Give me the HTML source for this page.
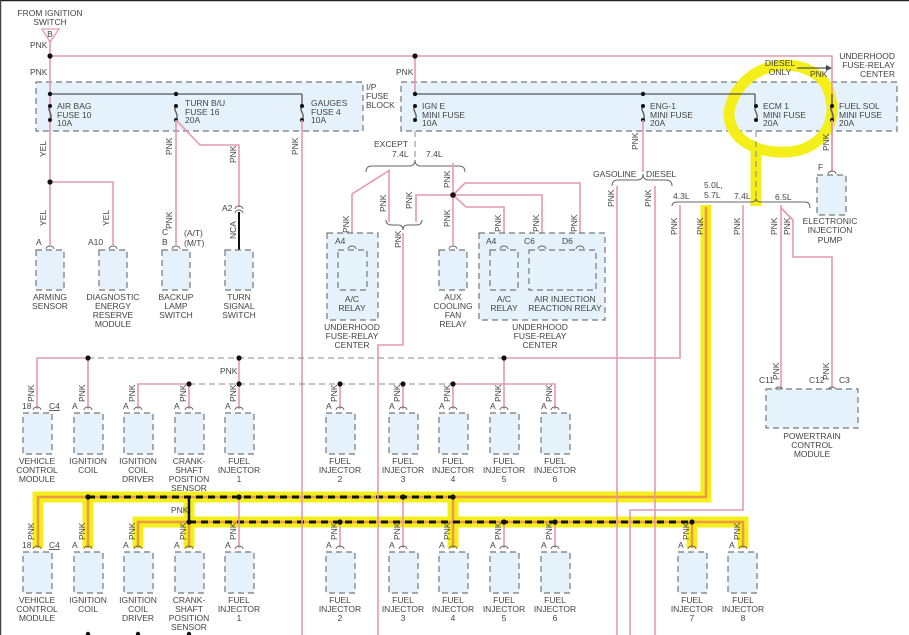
<!DOCTYPE html>
<html><head><meta charset="utf-8"><style>
html,body{margin:0;padding:0;background:#fff}
svg{display:block}
text{font-family:"Liberation Sans Narrow","Liberation Sans",sans-serif;font-size:8.5px;fill:#444}
.p{stroke:#e49aae;stroke-width:1.6;fill:none}
.g{stroke:#888;stroke-width:1;fill:none;stroke-dasharray:6,4}
.k{stroke:#555;stroke-width:1.3;fill:none}
.bx{fill:#e5f2fb;stroke:#777;stroke-width:1.2;stroke-dasharray:6,4}
.y{stroke:#f4ef1a;stroke-width:11;fill:none;stroke-linejoin:miter}
.o{stroke:#ee9a44;stroke-width:2.5;fill:none}
.bd{stroke:#111;stroke-width:3;fill:none;stroke-dasharray:7,5}
.c{stroke:#666;stroke-width:1;fill:none}
</style></head><body>
<svg width="909" height="635" viewBox="0 0 909 635" xmlns="http://www.w3.org/2000/svg">
<rect x="0" y="0" width="909" height="635" fill="#fff"/>
<line x1="0" y1="0.5" x2="909" y2="0.5" stroke="#222" stroke-width="1.5"/>
<line x1="0.5" y1="0" x2="0.5" y2="635" stroke="#444" stroke-width="1.5"/>

<!-- fuse blocks -->
<rect class="bx" x="36" y="82" width="327" height="49"/>
<rect class="bx" x="401" y="82" width="496" height="49"/>
<text x="366" y="90">I/P</text><text x="366" y="99">FUSE</text><text x="366" y="108">BLOCK</text>
<text x="895" y="59" text-anchor="end">UNDERHOOD</text><text x="895" y="68" text-anchor="end">FUSE-RELAY</text><text x="895" y="77" text-anchor="end">CENTER</text>

<!-- yellow highlights -->
<path class="y" d="M831,100 C828,74 802,62 776,66 C750,70 733,90 729,112 C728,138 755,154 788,152 C814,150 830,134 832,112 C832,106 832,103 831,100 Z" stroke-width="10"/>
<path class="y" d="M756,150 L756,206"/>
<path class="y" d="M706,205 L706,497 L38,497 L38,548"/>
<path class="y" d="M88,497 L88,548 M453,497 L453,548 M189,497 L189,548"/>
<path class="y" d="M138,548 L138,522 L743,522 L743,548 M692,522 L692,548"/>
<path class="o" d="M706,207 L706,497 L38,497 L38,548 M88,497 L88,548 M453,497 L453,548 M189,522 L189,548 M138,548 L138,522 L743,522 L743,548 M692,522 L692,548"/>
<path class="bd" d="M88,497 L453,497 M189,522 L692,522"/>
<path d="M189,497 L189,522" stroke="#111" stroke-width="2.5"/>

<!-- top feed -->
<text x="50" y="16" text-anchor="middle">FROM IGNITION</text><text x="50" y="25" text-anchor="middle">SWITCH</text>
<polygon points="42,29 59,29 50,42" fill="none" stroke="#e49aae" stroke-width="1.3"/>
<text x="50" y="37" text-anchor="middle" font-size="7">B</text>
<text x="30" y="48">PNK</text>
<path class="p" d="M50,42 L50,245 M50,56 L832,56 L832,172 M415,56 L415,94"/>
<text x="30" y="75">PNK</text><text x="396" y="75">PNK</text>
<circle cx="50" cy="56" r="2.6" fill="#111"/><circle cx="415" cy="56" r="2.6" fill="#111"/>
<path class="k" d="M50,94 L302,94 M415,94 L755,94"/>
<path class="k" d="M302,94 L302,106 M755,94 L755,106 M832,94 L832,106"/>
<text x="780" y="66" text-anchor="middle">DIESEL</text><text x="780" y="75" text-anchor="middle">ONLY</text>
<path class="k" d="M797,68 L828,68" stroke-width="1"/><polygon points="832,68 826,65 826,71" fill="#444"/>
<text x="810" y="77">PNK</text>

<!-- fuses -->
<g fill="#111">
<circle cx="50" cy="94" r="2.2"/><circle cx="176" cy="94" r="2.2"/><circle cx="415" cy="94" r="2.2"/><circle cx="643" cy="94" r="2.2"/>
</g>
<g>
<path class="k" d="M50,106 C46,110 54,114 50,120 M176,106 C172,110 180,114 176,120 M302,106 C298,110 306,114 302,120 M415,106 C411,110 419,114 415,120 M643,106 C639,110 647,114 643,120 M756,106 C752,110 760,114 756,120 M832,106 C828,110 836,114 832,120"/>
<g fill="#111">
<circle cx="50" cy="106" r="2"/><circle cx="50" cy="120" r="2"/><circle cx="176" cy="106" r="2"/><circle cx="176" cy="120" r="2"/>
<circle cx="302" cy="106" r="2"/><circle cx="302" cy="120" r="2"/><circle cx="415" cy="106" r="2"/><circle cx="415" cy="120" r="2"/>
<circle cx="643" cy="106" r="2"/><circle cx="643" cy="120" r="2"/><circle cx="756" cy="106" r="2"/><circle cx="756" cy="120" r="2"/>
<circle cx="832" cy="106" r="2"/><circle cx="832" cy="120" r="2"/>
</g>
</g>
<text x="57" y="109">AIR BAG</text><text x="57" y="118">FUSE 10</text><text x="57" y="126">10A</text>
<text x="185" y="106">TURN B/U</text><text x="185" y="115">FUSE 16</text><text x="185" y="123">20A</text>
<text x="311" y="106">GAUGES</text><text x="311" y="115">FUSE 4</text><text x="311" y="123">10A</text>
<text x="422" y="109">IGN E</text><text x="422" y="118">MINI FUSE</text><text x="422" y="126">10A</text>
<text x="650" y="109">ENG-1</text><text x="650" y="118">MINI FUSE</text><text x="650" y="126">20A</text>
<text x="763" y="109">ECM 1</text><text x="763" y="118">MINI FUSE</text><text x="763" y="126">20A</text>
<text x="839" y="109">FUEL SOL</text><text x="839" y="118">MINI FUSE</text><text x="839" y="126">20A</text>

<!-- left wiring -->
<path class="p" d="M50,182 L113,182 L113,245 M176,120 L176,245 M176,120 L200,145 L239,145 L239,207 M302,120 L302,635"/>
<path d="M239,212 L239,250" stroke="#111" stroke-width="2"/>
<circle cx="50" cy="182" r="2.6" fill="#111"/>
<g transform="rotate(-90)">
<text x="-157" y="46">YEL</text><text x="-226" y="46">YEL</text><text x="-226" y="109">YEL</text>
<text x="-155" y="172">PNK</text><text x="-163" y="236">PNK</text><text x="-155" y="298">PNK</text>
<text x="-229" y="172">PNK</text><text x="-239" y="236">NCA</text>
</g>
<text x="222" y="211">A2</text>
<path class="c" d="M235,209 A4,3 0 0 1 243,209 M235,213 A4,3 0 0 1 243,213"/>
<text x="36" y="245">A</text><text x="88" y="245">A10</text>
<text x="162" y="235">C</text><text x="162" y="245">B</text>
<text x="184" y="236">(A/T)</text><text x="184" y="246">(M/T)</text>
<path class="c" d="M46,249 A4,3 0 0 1 54,249 M109,249 A4,3 0 0 1 117,249 M172,249 A4,3 0 0 1 180,249"/>
<rect class="bx" x="36" y="250" width="28" height="40"/>
<rect class="bx" x="99" y="250" width="28" height="40"/>
<rect class="bx" x="162" y="250" width="28" height="40"/>
<rect class="bx" x="225" y="250" width="28" height="40"/>
<g text-anchor="middle">
<text x="50" y="300">ARMING</text><text x="50" y="309">SENSOR</text>
<text x="113" y="300">DIAGNOSTIC</text><text x="113" y="309">ENERGY</text><text x="113" y="318">RESERVE</text><text x="113" y="327">MODULE</text>
<text x="176" y="300">BACKUP</text><text x="176" y="309">LAMP</text><text x="176" y="318">SWITCH</text>
<text x="239" y="300">TURN</text><text x="239" y="309">SIGNAL</text><text x="239" y="318">SWITCH</text>
</g>

<!-- middle relays -->
<path class="g" d="M415,131 L415,160 M756,131 L756,200"/>
<path class="c" d="M366,172 Q366,166 372,166 L409,166 Q415,166 415,160 Q415,166 421,166 L459,166 Q465,166 465,172"/>
<text x="374" y="147">EXCEPT</text><text x="392" y="157">7.4L</text><text x="426" y="157">7.4L</text>
<path class="p" d="M390,170 L352,194 L352,245 M389,170 L389,222 M416,222 L416,195 L453,195 L453,245 M453,195 L453,163 M453,195 L465,183 L580,183 L580,245 M453,195 L542,195 L542,245 M453,195 L466,207 L504,207 L504,245 M403,233 L403,345 L378,345 L378,635"/>
<path class="c" d="M386,220 Q386,225 392,225 L398,225 Q403,225 403,230 Q403,225 408,225 L416,225 Q422,225 422,220"/>
<circle cx="453" cy="195" r="2.8" fill="#111"/>
<rect class="bx" x="327" y="233" width="51" height="87"/>
<rect class="bx" x="338" y="250" width="29" height="40"/>
<rect class="bx" x="439" y="250" width="28" height="40"/>
<rect class="bx" x="479" y="233" width="126" height="87"/>
<rect class="bx" x="490" y="250" width="28" height="40"/>
<rect class="bx" x="529" y="250" width="67" height="40"/>
<path class="c" d="M348,249 A4,3 0 0 1 356,249 M449,249 A4,3 0 0 1 457,249 M500,249 A4,3 0 0 1 508,249 M538,249 A4,3 0 0 1 546,249 M576,249 A4,3 0 0 1 584,249"/>
<text x="335" y="244">A4</text><text x="486" y="244">A4</text><text x="524" y="244">C6</text><text x="562" y="244">D6</text>
<g text-anchor="middle">
<text x="352" y="302">A/C</text><text x="352" y="311">RELAY</text>
<text x="352" y="330">UNDERHOOD</text><text x="352" y="339">FUSE-RELAY</text><text x="352" y="348">CENTER</text>
<text x="453" y="300">AUX</text><text x="453" y="309">COOLING</text><text x="453" y="318">FAN</text><text x="453" y="327">RELAY</text>
<text x="504" y="302">A/C</text><text x="504" y="311">RELAY</text>
<text x="565" y="302">AIR INJECTION</text><text x="565" y="311">REACTION RELAY</text>
<text x="540" y="330">UNDERHOOD</text><text x="540" y="339">FUSE-RELAY</text><text x="540" y="348">CENTER</text>
</g>
<g transform="rotate(-90)">
<text x="-233" y="349">PNK</text><text x="-212" y="386">PNK</text><text x="-209" y="412">PNK</text><text x="-248" y="401">PNK</text>
<text x="-188" y="450">PNK</text><text x="-227" y="450">PNK</text><text x="-232" y="501">PNK</text><text x="-232" y="539">PNK</text><text x="-232" y="577">PNK</text>
</g>

<!-- right side -->
<path class="p" d="M643,120 L643,172 M617,186 L617,635 M655,186 L655,635 M680,205 L680,358 L504,358 M743,205 L743,510 L630,510 L630,635 M781,205 L781,388 M781,208 L793,220 L793,257 L832,257 L832,388 M832,120 L832,172"/>
<path class="c" d="M612,186 Q612,180 618,180 L637,180 Q643,180 643,174 Q643,180 649,180 L666,180 Q672,180 672,186"/>
<text x="593" y="177">GASOLINE</text><text x="646" y="177">DIESEL</text>
<path class="c" d="M672,206 Q672,202 678,202 L752,202 Q756,202 756,198 Q756,202 760,202 L805,202 Q810,202 810,208"/>
<text x="673" y="199">4.3L</text><text x="704" y="188">5.0L,</text><text x="704" y="198">5.7L</text><text x="734" y="199">7.4L</text><text x="775" y="200">6.5L</text>
<g transform="rotate(-90)">
<text x="-150" y="638">PNK</text><text x="-207" y="614">PNK</text><text x="-207" y="651">PNK</text>
<text x="-235" y="677">PNK</text><text x="-235" y="703">PNK</text><text x="-235" y="740">PNK</text><text x="-235" y="777">PNK</text><text x="-235" y="790">PNK</text>
<text x="-151" y="829">PNK</text>
<text x="-380" y="779">PNK</text><text x="-380" y="829">PNK</text>
</g>
<text x="818" y="170">F</text>
<path class="c" d="M828,174 A4,3 0 0 1 836,174 M775,390 A4,3 0 0 1 783,390 M828,390 A4,3 0 0 1 836,390"/>
<rect class="bx" x="817" y="175" width="29" height="40"/>
<g text-anchor="middle">
<text x="830" y="224">ELECTRONIC</text><text x="830" y="233">INJECTION</text><text x="830" y="243">PUMP</text>
</g>
<text x="759" y="383">C11</text><text x="809" y="383">C12</text><text x="839" y="383">C3</text>
<rect class="bx" x="766" y="389" width="92" height="39"/>
<g text-anchor="middle">
<text x="812" y="439">POWERTRAIN</text><text x="812" y="448">CONTROL</text><text x="812" y="457">MODULE</text>
</g>

<!-- row 1 buses -->
<path class="g" d="M88,358 L504,358 M189,384 L453,384"/>
<path class="p" d="M37,409 L37,358 L88,358 L88,409 M138,409 L138,384 L189,384 L189,409 M239,358 L239,409 M340,384 L340,409 M403,384 L403,409 M453,384 L453,409 M453,384 L555,384 L555,409 M504,358 L504,409"/>
<text x="220" y="374">PNK</text>
<g fill="#111">
<circle cx="88" cy="358" r="2.6"/><circle cx="239" cy="358" r="2.6"/><circle cx="504" cy="358" r="2.6"/>
<circle cx="189" cy="384" r="2.6"/><circle cx="239" cy="384" r="2.6"/><circle cx="340" cy="384" r="2.6"/><circle cx="403" cy="384" r="2.6"/><circle cx="453" cy="384" r="2.6"/>
</g>
<path class="c" d="M33,410 A4,3 0 0 1 41,410 M84,410 A4,3 0 0 1 92,410 M134,410 A4,3 0 0 1 142,410 M185,410 A4,3 0 0 1 193,410 M235,410 A4,3 0 0 1 243,410 M336,410 A4,3 0 0 1 344,410 M399,410 A4,3 0 0 1 407,410 M449,410 A4,3 0 0 1 457,410 M500,410 A4,3 0 0 1 508,410 M551,410 A4,3 0 0 1 559,410"/>
<text x="22" y="409">18</text><text x="49" y="409" text-decoration="underline">C4</text>
<text x="72" y="409">A</text><text x="123" y="409">A</text><text x="174" y="409">A</text><text x="225" y="409">A</text><text x="326" y="409">A</text><text x="389" y="409">A</text><text x="439" y="409">A</text><text x="490" y="409">A</text><text x="541" y="409">A</text>
<g transform="rotate(-90)">
<text x="-402" y="34">PNK</text><text x="-402" y="85">PNK</text><text x="-402" y="135">PNK</text><text x="-402" y="186">PNK</text><text x="-402" y="236">PNK</text>
<text x="-402" y="337">PNK</text><text x="-402" y="400">PNK</text><text x="-402" y="450">PNK</text><text x="-402" y="501">PNK</text><text x="-402" y="552">PNK</text>
</g>
<g>
<rect class="bx" x="23" y="413" width="29" height="41"/><rect class="bx" x="74" y="413" width="29" height="41"/><rect class="bx" x="124" y="413" width="29" height="41"/><rect class="bx" x="175" y="413" width="29" height="41"/><rect class="bx" x="225" y="413" width="29" height="41"/>
<rect class="bx" x="326" y="413" width="29" height="41"/><rect class="bx" x="389" y="413" width="29" height="41"/><rect class="bx" x="439" y="413" width="29" height="41"/><rect class="bx" x="490" y="413" width="29" height="41"/><rect class="bx" x="541" y="413" width="29" height="41"/>
</g>
<g text-anchor="middle">
<text x="37" y="464">VEHICLE</text><text x="37" y="473">CONTROL</text><text x="37" y="482">MODULE</text>
<text x="88" y="464">IGNITION</text><text x="88" y="473">COIL</text>
<text x="138" y="464">IGNITION</text><text x="138" y="473">COIL</text><text x="138" y="482">DRIVER</text>
<text x="189" y="464">CRANK-</text><text x="189" y="473">SHAFT</text><text x="189" y="482">POSITION</text><text x="189" y="491">SENSOR</text>
<text x="239" y="464">FUEL</text><text x="239" y="473">INJECTOR</text><text x="239" y="482">1</text>
<text x="340" y="464">FUEL</text><text x="340" y="473">INJECTOR</text><text x="340" y="482">2</text>
<text x="403" y="464">FUEL</text><text x="403" y="473">INJECTOR</text><text x="403" y="482">3</text>
<text x="453" y="464">FUEL</text><text x="453" y="473">INJECTOR</text><text x="453" y="482">4</text>
<text x="504" y="464">FUEL</text><text x="504" y="473">INJECTOR</text><text x="504" y="482">5</text>
<text x="555" y="464">FUEL</text><text x="555" y="473">INJECTOR</text><text x="555" y="482">6</text>
</g>

<!-- row 2 -->
<path class="p" d="M239,497 L239,548 M340,522 L340,548 M403,497 L403,548 M504,522 L504,548 M555,522 L555,548"/>
<text x="171" y="513">PNK</text>
<g fill="#111">
<circle cx="88" cy="497" r="2.6"/><circle cx="239" cy="497" r="2.6"/><circle cx="403" cy="497" r="2.6"/><circle cx="453" cy="497" r="2.6"/>
<circle cx="189" cy="522" r="2.6"/><circle cx="340" cy="522" r="2.6"/><circle cx="504" cy="522" r="2.6"/><circle cx="555" cy="522" r="2.6"/><circle cx="692" cy="522" r="2.6"/>
</g>
<path class="c" d="M33,549 A4,3 0 0 1 41,549 M84,549 A4,3 0 0 1 92,549 M134,549 A4,3 0 0 1 142,549 M185,549 A4,3 0 0 1 193,549 M235,549 A4,3 0 0 1 243,549 M336,549 A4,3 0 0 1 344,549 M399,549 A4,3 0 0 1 407,549 M449,549 A4,3 0 0 1 457,549 M500,549 A4,3 0 0 1 508,549 M551,549 A4,3 0 0 1 559,549 M688,549 A4,3 0 0 1 696,549 M739,549 A4,3 0 0 1 747,549"/>
<text x="22" y="548">18</text><text x="49" y="548" text-decoration="underline">C4</text>
<text x="72" y="548">A</text><text x="123" y="548">A</text><text x="174" y="548">A</text><text x="225" y="548">A</text><text x="326" y="548">A</text><text x="389" y="548">A</text><text x="439" y="548">A</text><text x="490" y="548">A</text><text x="541" y="548">A</text><text x="678" y="548">A</text><text x="729" y="548">A</text>
<g transform="rotate(-90)">
<text x="-540" y="34">PNK</text><text x="-540" y="85">PNK</text><text x="-540" y="135">PNK</text><text x="-540" y="186">PNK</text><text x="-540" y="236">PNK</text>
<text x="-540" y="337">PNK</text><text x="-540" y="400">PNK</text><text x="-540" y="450">PNK</text><text x="-540" y="501">PNK</text><text x="-540" y="552">PNK</text><text x="-540" y="689">PNK</text><text x="-540" y="740">PNK</text>
</g>
<g>
<rect class="bx" x="23" y="552" width="29" height="41"/><rect class="bx" x="74" y="552" width="29" height="41"/><rect class="bx" x="124" y="552" width="29" height="41"/><rect class="bx" x="175" y="552" width="29" height="41"/><rect class="bx" x="225" y="552" width="29" height="41"/>
<rect class="bx" x="326" y="552" width="29" height="41"/><rect class="bx" x="389" y="552" width="29" height="41"/><rect class="bx" x="439" y="552" width="29" height="41"/><rect class="bx" x="490" y="552" width="29" height="41"/><rect class="bx" x="541" y="552" width="29" height="41"/>
<rect class="bx" x="678" y="552" width="29" height="41"/><rect class="bx" x="728" y="552" width="29" height="41"/>
</g>
<g text-anchor="middle">
<text x="37" y="603">VEHICLE</text><text x="37" y="612">CONTROL</text><text x="37" y="621">MODULE</text>
<text x="88" y="603">IGNITION</text><text x="88" y="612">COIL</text>
<text x="138" y="603">IGNITION</text><text x="138" y="612">COIL</text><text x="138" y="621">DRIVER</text>
<text x="189" y="603">CRANK-</text><text x="189" y="612">SHAFT</text><text x="189" y="621">POSITION</text><text x="189" y="630">SENSOR</text>
<text x="239" y="603">FUEL</text><text x="239" y="612">INJECTOR</text><text x="239" y="621">1</text>
<text x="340" y="603">FUEL</text><text x="340" y="612">INJECTOR</text><text x="340" y="621">2</text>
<text x="403" y="603">FUEL</text><text x="403" y="612">INJECTOR</text><text x="403" y="621">3</text>
<text x="453" y="603">FUEL</text><text x="453" y="612">INJECTOR</text><text x="453" y="621">4</text>
<text x="504" y="603">FUEL</text><text x="504" y="612">INJECTOR</text><text x="504" y="621">5</text>
<text x="555" y="603">FUEL</text><text x="555" y="612">INJECTOR</text><text x="555" y="621">6</text>
<text x="692" y="603">FUEL</text><text x="692" y="612">INJECTOR</text><text x="692" y="621">7</text>
<text x="743" y="603">FUEL</text><text x="743" y="612">INJECTOR</text><text x="743" y="621">8</text>
</g>
<g fill="#111"><circle cx="88" cy="634" r="2.2"/><circle cx="138" cy="634" r="2.2"/><circle cx="189" cy="634" r="2.2"/></g>
</svg>
</body></html>
